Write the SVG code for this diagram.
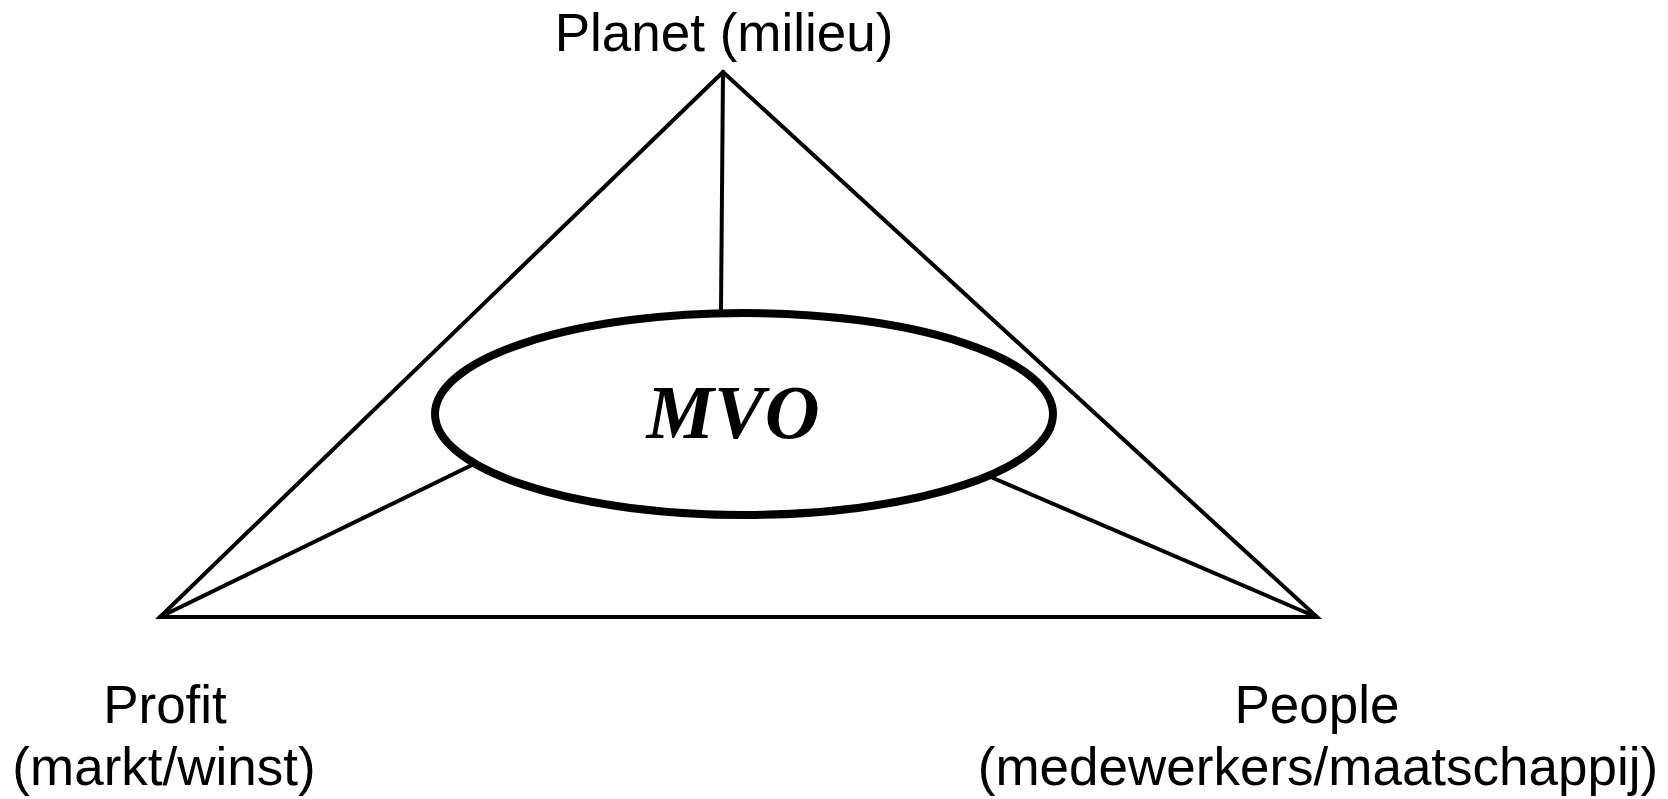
<svg xmlns="http://www.w3.org/2000/svg" width="1668" height="799" viewBox="0 0 1668 799">
<style>
.ln{stroke:#000;stroke-width:4;fill:none;stroke-linecap:round;stroke-linejoin:miter}
.lbl{font-family:"Liberation Sans",Arial,sans-serif;font-size:53px;fill:#000;text-anchor:middle}
.mvo{font-family:"Liberation Serif","Times New Roman",serif;font-size:76px;font-weight:bold;font-style:italic;fill:#000;text-anchor:middle}
</style>
<rect width="1668" height="799" fill="#fff"/>
<g id="connectors">
<polygon class="ln" points="723,72 160,617 1317,617"/>
<line class="ln" x1="723" y1="72" x2="721" y2="310"/>
<line class="ln" x1="160" y1="617" x2="472" y2="465"/>
<line class="ln" x1="1314" y1="616" x2="993" y2="478"/>
</g>
<g id="mvo">
<ellipse cx="744" cy="414" rx="309" ry="101" fill="#fff" stroke="#000" stroke-width="8"/>
<text class="mvo" x="733" y="438">MVO</text>
</g>
<g id="planet">
<text class="lbl" x="724" y="51">Planet (milieu)</text>
</g>
<g id="profit">
<text class="lbl" x="165" y="723">Profit</text>
<text class="lbl" x="164" y="785">(markt/winst)</text>
</g>
<g id="people">
<text class="lbl" x="1317" y="723">People</text>
<text class="lbl" x="1318" y="785">(medewerkers/maatschappij)</text>
</g>
</svg>
